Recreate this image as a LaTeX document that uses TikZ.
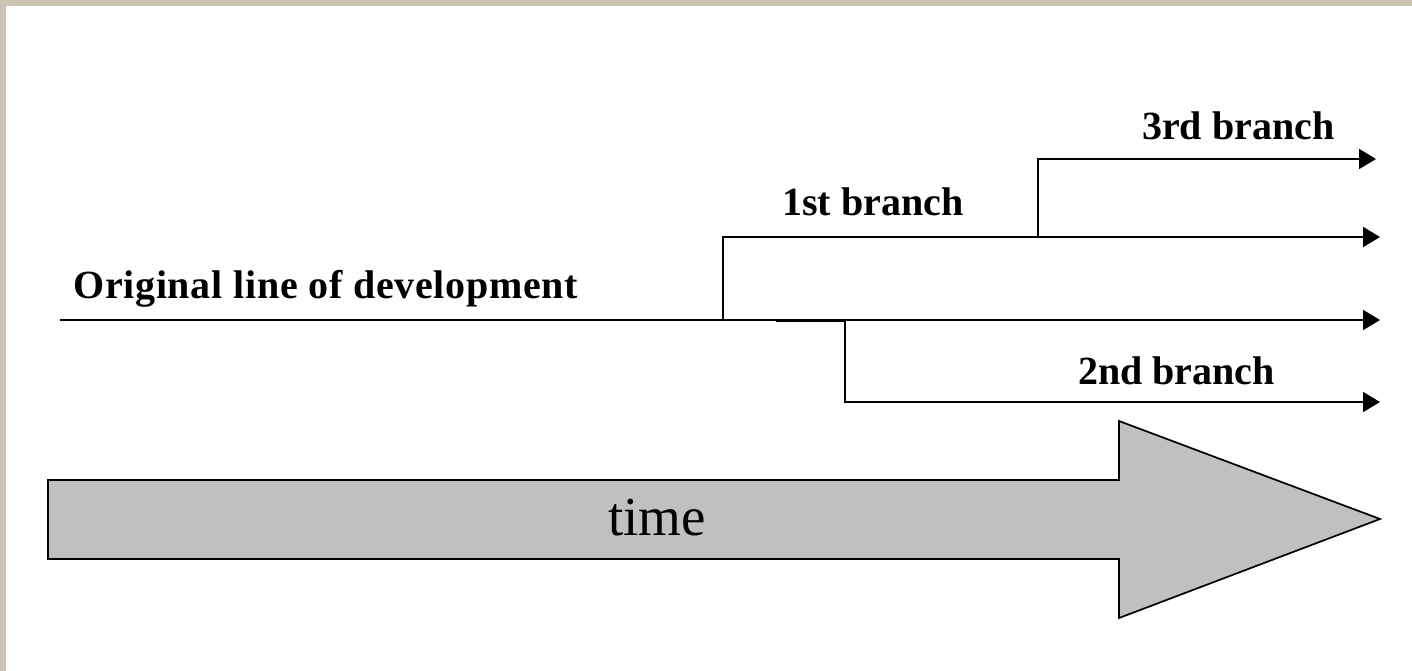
\documentclass[tikz,border=0pt]{standalone}
\usepackage{fontspec}
\setmainfont{Liberation Serif}
\usetikzlibrary{arrows.meta}
\definecolor{frame}{HTML}{CCC5B4}
\definecolor{arrowgray}{HTML}{C0C0C0}
\tikzset{
  devline/.style={line width=1.7pt, line join=miter},
  devarrow/.style={devline, -{Triangle[length=17pt,width=20pt]}},
  lbl/.style={anchor=base west, inner sep=0pt, font=\fontsize{40}{44}\selectfont\bfseries},
  bigarrow/.style={fill=arrowgray, draw=black, line width=1.7pt, line join=miter}
}
\begin{document}
\begin{tikzpicture}[x=1pt,y=-1pt]
\useasboundingbox (0,0) rectangle (1412,671);
\fill[frame] (0,0) rectangle (1412,671);
\fill[white] (6,6) rectangle (1412,671);
% coordinates
\coordinate (o0) at (60,320);
\coordinate (o1) at (1380,320);
\coordinate (b1s) at (723,320);
\coordinate (b1c) at (723,237);
\coordinate (b1e) at (1380,237);
\coordinate (b3s) at (1038,237);
\coordinate (b3c) at (1038,159);
\coordinate (b3e) at (1376,159);
\coordinate (b2s) at (776,321.5);
\coordinate (b2c) at (845,321.5);
\coordinate (b2d) at (845,402);
\coordinate (b2e) at (1380,402);
% lines
\draw[devarrow] (o0) -- (o1);
\draw[devarrow] (b1s) -- (b1c) -- (b1e);
\draw[devarrow] (b3s) -- (b3c) -- (b3e);
\draw[devarrow] (b2s) -- (b2c) -- (b2d) -- (b2e);
% labels
\node[lbl] (orig) at (73,298) {\addfontfeatures{LetterSpace=1.8}Original line of development};
\node[lbl] (first) at (782,215) {1st branch};
\node[lbl] (third) at (1142,140) {3rd branch};
\node[lbl] (second) at (1078,384) {2nd branch};
% time arrow
\draw[bigarrow] (48,480) -- (1119,480) -- (1119,421) -- (1380,519) -- (1119,618) -- (1119,559) -- (48,559) -- cycle;
\node[anchor=base west, inner sep=0pt, font=\fontsize{55}{60}\selectfont] (time) at (608,535) {time};
\end{tikzpicture}
\end{document}
